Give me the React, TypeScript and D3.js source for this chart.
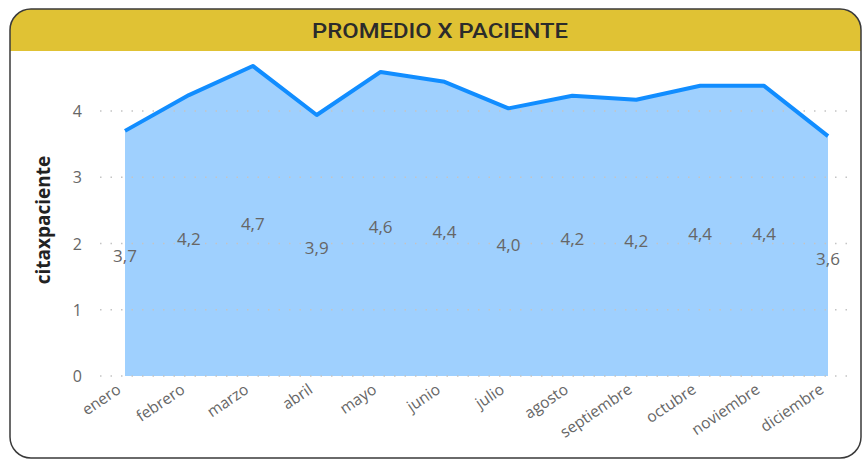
import React from "react";
import * as d3 from "d3";

const months = ["enero","febrero","marzo","abril","mayo","junio","julio","agosto","septiembre","octubre","noviembre","diciembre"];
const values = [3.7, 4.24, 4.68, 3.94, 4.59, 4.44, 4.04, 4.23, 4.17, 4.38, 4.38, 3.62];
const yTicks = [0, 1, 2, 3, 4];

const W = 862, H = 460;

export default function App() {
  const x = d3.scalePoint<string>().domain(months).range([125, 828]);
  const y = d3.scaleLinear().domain([0, 4]).range([376, 111]);
  const area = d3.area<number>().x((_, i) => x(months[i])!).y0(y(0)).y1(d => y(d));
  const line = d3.line<number>().x((_, i) => x(months[i])!).y(d => y(d));
  const fmt = (v: number) => v.toFixed(1).replace(".", ",");
  const font = "'Segoe UI', 'Open Sans', 'DejaVu Sans', sans-serif";
  return (
    <svg width={W} height={H} style={{ position: "absolute", left: 0, top: 0, background: "#fff" }}>
      <defs>
        <clipPath id="card">
          <rect x={10} y={9} width={851} height={449} rx={21} />
        </clipPath>
      </defs>
      <g clipPath="url(#card)">
        <rect x={10} y={9} width={851} height={449} fill="#fff" />
        <rect x={10} y={9} width={851} height={42} fill="#E0C234" />
      </g>
      <rect x={10} y={9} width={851} height={449} rx={21} fill="none" stroke="#3a3a3a" strokeWidth={1.5} />
      <text x={440} y={38} textAnchor="middle" fontFamily="Roboto, 'DejaVu Sans', sans-serif" fontWeight={500} fontSize={21} fill="#2b2b2b" textLength={256} lengthAdjust="spacingAndGlyphs">PROMEDIO X PACIENTE</text>
      <path d={area(values)!} fill="#9FD0FE" />
      {yTicks.map(t => (
        <g key={t}>
          <line x1={100} x2={852} y1={y(t)} y2={y(t)} stroke="#c4c4c4" strokeWidth={1.5} strokeDasharray="1.5 9" />
          <text x={82} y={y(t) + 6} textAnchor="end" fontFamily={font} fontSize={16} fill="#666">{t}</text>
        </g>
      ))}
      <path d={line(values)!} fill="none" stroke="#118DFF" strokeWidth={4} strokeLinejoin="round" />
      {values.map((v, i) => (
        <text key={i} x={x(months[i])!} y={y(v / 2) + 9} textAnchor="middle" fontFamily={font} fontSize={17} fill="#666">{fmt(v)}</text>
      ))}
      {months.map(m => (
        <text key={m} transform={`translate(${x(m)! - 3},${392}) rotate(-34)`} textAnchor="end" fontFamily={font} fontSize={15.5} fill="#666">{m}</text>
      ))}
      <text transform={`translate(50,220) rotate(-90)`} textAnchor="middle" fontFamily={font} fontWeight={700} fontSize={19} fill="#222">citaxpaciente</text>
    </svg>
  );
}
